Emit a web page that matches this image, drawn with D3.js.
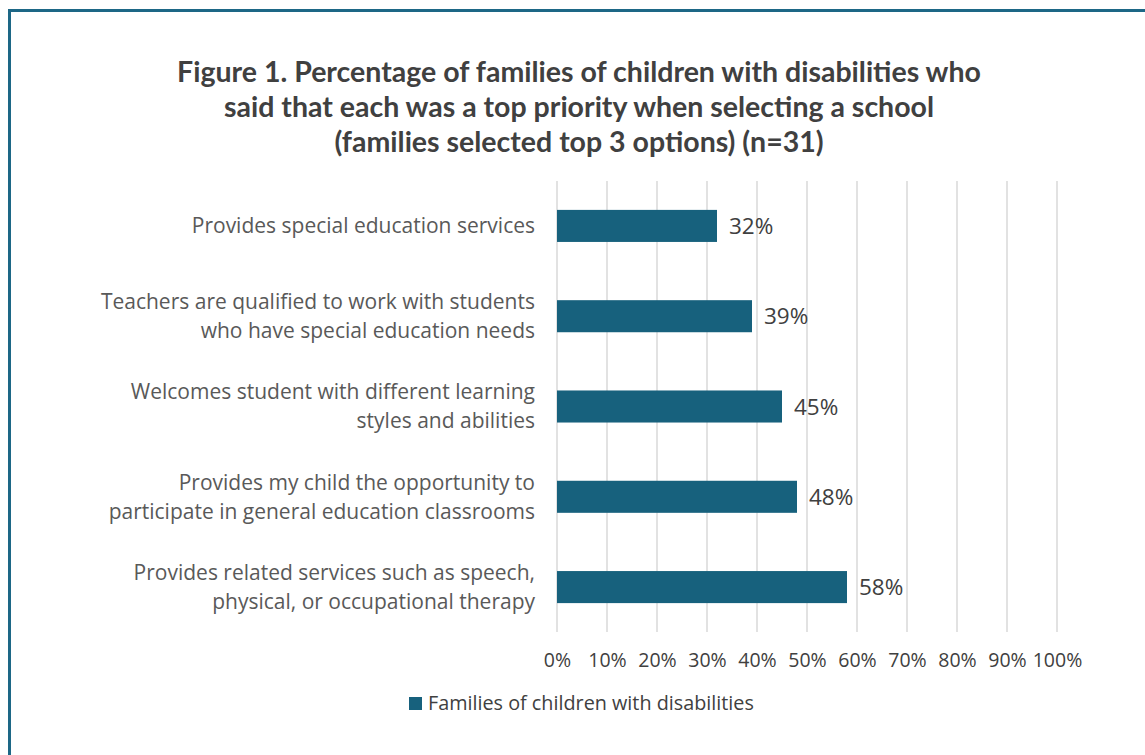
<!DOCTYPE html>
<html>
<head>
<meta charset="utf-8">
<script src="https://cdn.jsdelivr.net/npm/d3@7"></script>
<style>
  body { margin: 0; background: #fff; }
  svg text { font-family: "Open Sans", Lato, sans-serif; }
</style>
</head>
<body>
<div id="chart"></div>
<script>
// Chart data
const categories = [
    "Provides special education services",
    "Teachers are qualified to work with students|who have special education needs",
    "Welcomes student with different learning|styles and abilities",
    "Provides my child the opportunity to|participate in general education classrooms",
    "Provides related services such as speech,|physical, or occupational therapy"
];
const values = [32, 39, 45, 48, 58];
const ticks = [0, 10, 20, 30, 40, 50, 60, 70, 80, 90, 100];
const seriesName = "Families of children with disabilities";
const titleLines = [
    "Figure 1. Percentage of families of children with disabilities who",
    "said that each was a top priority when selecting a school",
    "(families selected top 3 options) (n=31)"
];

const width = 1145, height = 755;
const barColor = "#17617d";
const textColor = "#404040";
const labelColor = "#595959";
const margin = {left: 557, right: 88, top: 181, bottom: 123};

const svg = d3.select("#chart").append("svg")
    .attr("width", width)
    .attr("height", height);

// outer frame (only top and left edges are visible)
svg.append("path")
    .attr("d", `M9.5,${height + 5} V10.5 H${width + 5}`)
    .attr("fill", "none")
    .attr("stroke", "#1d6786")
    .attr("stroke-width", 3);

// title
svg.append("text")
    .attr("x", 579)
    .attr("y", 82)
    .attr("text-anchor", "middle")
    .attr("font-size", "28.5px")
    .attr("font-weight", "bold")
    .attr("fill", textColor)
    .style("font-family", "Lato, sans-serif")
    .selectAll("tspan")
    .data(titleLines)
    .join("tspan")
    .attr("x", 579)
    .attr("dy", (d, i) => i === 0 ? 0 : 35)
    .text(d => d);

const x = d3.scaleLinear()
    .domain([0, 100])
    .range([margin.left, width - margin.right]);

const y = d3.scaleBand()
    .domain(categories)
    .range([margin.top, height - margin.bottom])
    .paddingInner(0.645)
    .paddingOuter(0.32);

// gridlines
svg.append("g")
    .selectAll("line")
    .data(ticks)
    .join("line")
    .attr("x1", d => x(d))
    .attr("x2", d => x(d))
    .attr("y1", margin.top)
    .attr("y2", height - margin.bottom)
    .attr("stroke", "#d9d9d9")
    .attr("stroke-width", 1.5);

// x axis tick labels
const xAxis = svg.append("g")
    .attr("transform", `translate(0,${height - margin.bottom})`)
    .call(d3.axisBottom(x).tickValues(ticks).tickFormat(d => d + "%").tickSize(0).tickPadding(21));
xAxis.select(".domain").remove();
xAxis.selectAll("text")
    .attr("font-size", "19.5px")
    .attr("fill", textColor)
    .style("font-family", "'Open Sans', sans-serif");

// category labels
svg.append("g")
    .selectAll("text")
    .data(categories)
    .join("text")
    .attr("text-anchor", "end")
    .attr("font-size", "21px")
    .attr("fill", labelColor)
    .each(function (d) {
        const lines = d.split("|");
        const cy = y(d) + y.bandwidth() / 2;
        const lh = 29;
        d3.select(this).selectAll("tspan")
            .data(lines)
            .join("tspan")
            .attr("x", margin.left - 22)
            .attr("y", (l, i) => cy + (i - (lines.length - 1) / 2) * lh)
            .attr("dy", "0.35em")
            .text(l => l);
    });

// bars
svg.append("g")
    .selectAll("rect")
    .data(values)
    .join("rect")
    .attr("x", x(0))
    .attr("y", (d, i) => y(categories[i]))
    .attr("width", d => x(d) - x(0))
    .attr("height", y.bandwidth())
    .attr("fill", barColor);

// value labels
svg.append("g")
    .selectAll("text")
    .data(values)
    .join("text")
    .attr("x", d => x(d) + 12)
    .attr("y", (d, i) => y(categories[i]) + y.bandwidth() / 2)
    .attr("dy", "0.36em")
    .attr("font-size", "22.5px")
    .attr("fill", textColor)
    .text(d => d + "%");

// legend
const legend = svg.append("g").attr("transform", "translate(409,697)");
legend.append("rect")
    .attr("width", 13)
    .attr("height", 13)
    .attr("fill", barColor);
legend.append("text")
    .attr("x", 19)
    .attr("y", 6.5)
    .attr("dy", "0.35em")
    .attr("font-size", "19.8px")
    .attr("fill", textColor)
    .text(seriesName);
</script>
</body>
</html>
